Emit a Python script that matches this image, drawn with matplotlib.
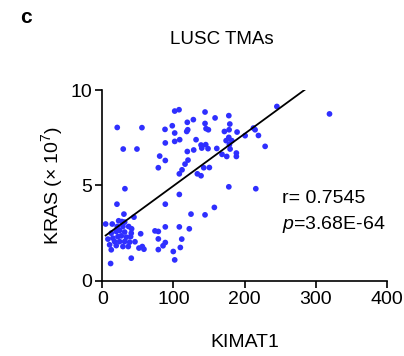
import numpy as np
import matplotlib
matplotlib.use("Agg")
import matplotlib.pyplot as plt

plt.rcParams['font.family'] = ['Liberation Sans', 'DejaVu Sans']
plt.rcParams['mathtext.fontset'] = 'custom'
plt.rcParams['mathtext.rm'] = 'Liberation Sans'
plt.rcParams['mathtext.it'] = 'Liberation Sans:italic'

# KIMAT1 score vs KRAS (x 10^7)
kimat1 = np.array([
    21.1, 55.8, 29.5, 48.8, 31.9, 101.8, 107.9, 98.4, 88.2, 101.8,
    88.6, 101.8, 108.8, 119.5, 128.0, 120.1, 118.7, 144.4, 144.4, 145.8,
    149.1, 158.5, 177.8, 179.2, 171.6, 178.2, 189.4, 200.7, 131.8, 138.8,
    145.4, 139.8, 148.6, 128.5, 119.5, 160.9, 174.0, 177.8, 182.0, 178.6,
    179.6, 168.3, 174.9, 188.4, 188.4, 80.7, 88.6, 120.5, 116.3, 78.8,
    112.1, 108.3, 133.6, 138.8, 142.6, 150.5, 177.8, 108.3, 245.3, 319.2,
    212.4, 214.7, 219.4, 228.8, 215.7, 144.4, 157.5, 20.7, 30.5, 44.6,
    4.8, 14.1, 88.6, 124.7, 108.3, 122.3, 88.6, 74.1, 78.8, 54.0,
    78.8, 111.7, 88.6, 85.4, 78.8, 109.7, 99.8, 101.8, 51.6, 56.3,
    58.6, 40.8, 11.8, 46.0, 41.3, 36.6, 23.1, 27.7, 31.5, 21.1,
    29.1, 37.1, 12.7, 19.7, 24.5, 31.5, 40.8, 8.0, 15.0, 22.1,
    26.7, 33.8, 39.9, 17.4, 24.5, 31.5, 38.5, 10.4, 19.7, 29.1,
    12.7,
])
kras = np.array([
    8.04, 8.03, 6.91, 6.91, 4.83, 8.90, 8.97, 8.13, 7.94, 7.75,
    7.23, 7.31, 7.40, 8.31, 8.45, 7.92, 7.83, 8.85, 8.25, 7.98,
    7.92, 8.54, 8.66, 8.22, 7.83, 7.92, 7.80, 7.61, 7.40, 7.12,
    7.14, 6.96, 6.93, 6.86, 6.78, 6.94, 7.35, 7.52, 7.35, 7.14,
    6.91, 6.63, 6.52, 6.70, 6.52, 6.54, 6.31, 6.33, 6.12, 5.93,
    5.82, 5.61, 5.61, 5.51, 5.93, 5.94, 4.93, 4.53, 9.14, 8.75,
    8.01, 7.92, 7.62, 7.05, 4.83, 3.46, 3.85, 4.02, 3.50, 3.34,
    2.98, 2.98, 4.02, 3.50, 2.83, 2.73, 2.83, 2.62, 2.59, 2.47,
    2.20, 2.19, 2.01, 1.84, 1.64, 1.75, 1.54, 1.10, 1.72, 1.80,
    1.66, 1.19, 0.91, 2.05, 2.73, 1.80, 3.15, 3.11, 3.08, 2.85,
    2.85, 2.85, 2.50, 2.59, 2.64, 2.56, 2.50, 2.19, 2.24, 2.32,
    2.36, 2.29, 2.32, 2.06, 2.06, 2.06, 2.03, 1.89, 1.85, 1.80,
    1.63,
])

r_text = "r= 0.7545"
p_text = "$p$=3.68E-64"

fig = plt.figure(figsize=(4.04, 3.56), dpi=100)
ax = fig.add_axes([0.253, 0.211, 0.705, 0.536])

ax.scatter(kimat1, kras, s=17, color='#2f2fff', edgecolors='none', zorder=3)

# linear fit
b, a = np.polyfit(kimat1, kras, 1)
xx = np.array([kimat1.min(), kimat1.max()])
ax.plot(xx, a + b * xx, color='black', lw=1.3, zorder=4)

ax.set_xlim(0, 400)
ax.set_ylim(0, 10)
ax.set_xticks([0, 100, 200, 300, 400])
ax.set_yticks([0, 5, 10])
for s in ['top', 'right']:
    ax.spines[s].set_visible(False)
for s in ['left', 'bottom']:
    ax.spines[s].set_linewidth(1.2)
ax.tick_params(width=1.2, length=5, labelsize=14, pad=2)

ax.set_xlabel("KIMAT1", fontsize=14, labelpad=19)
ax.set_ylabel("KRAS (× 10$^7$)", fontsize=14, labelpad=4)

ax.text(0.63, 0.41, r_text, transform=ax.transAxes, fontsize=14)
ax.text(0.63, 0.27, p_text, transform=ax.transAxes, fontsize=14)

fig.text(0.55, 0.888, "LUSC TMAs", ha='center', va='center', fontsize=13.5)
fig.text(0.05, 0.95, "c", ha='left', va='center', fontsize=15, fontweight='bold')

fig.savefig("out.png", dpi=100)
